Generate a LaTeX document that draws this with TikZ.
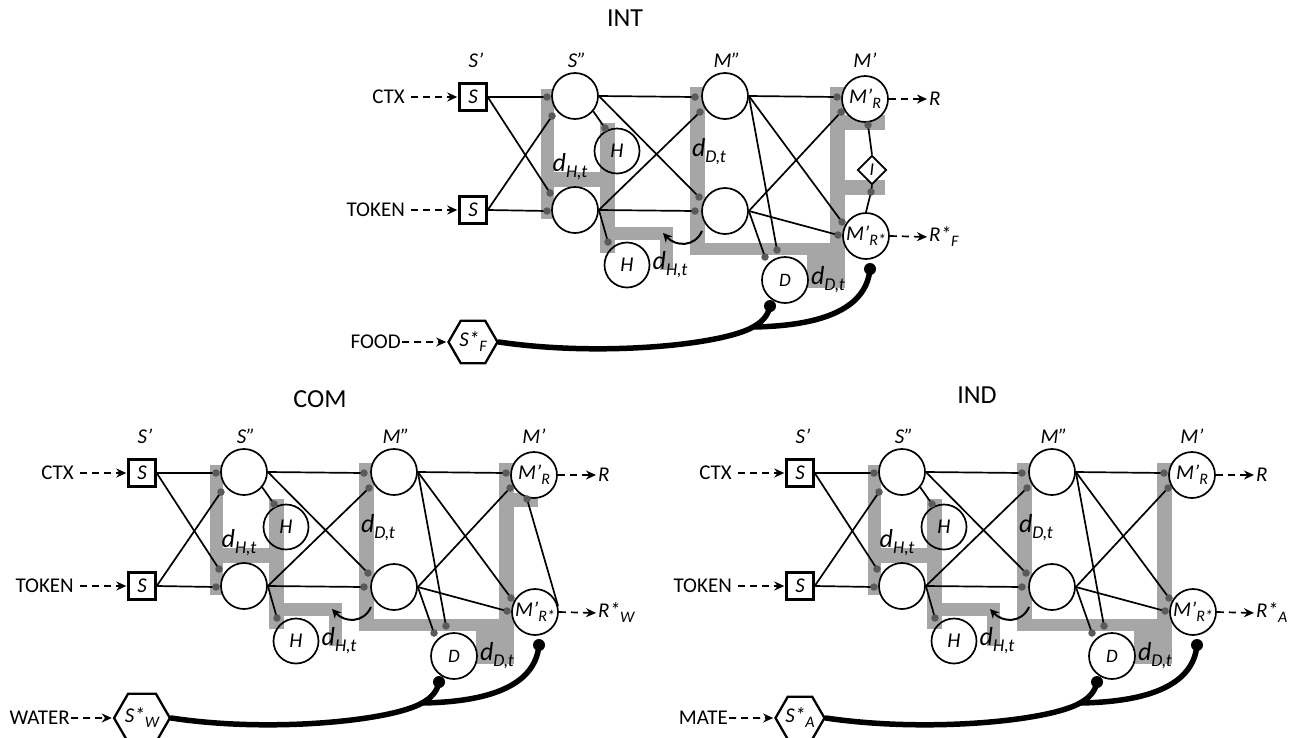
\documentclass[tikz,border=0pt]{standalone}
\usepackage{fontspec}
\setmainfont{Carlito}
\usetikzlibrary{arrows.meta,shapes.geometric}
\definecolor{bandgray}{RGB}{166,166,166}
\definecolor{dotgray}{RGB}{90,90,90}
\newcommand\lblfont{\fontsize{21}{24}\selectfont}
\newcommand\sbs[1]{\raisebox{-5pt}{\fontsize{16}{16}\selectfont #1}}
\newcommand\dlab[1]{{\fontsize{26}{26}\selectfont d}\raisebox{-6pt}{\fontsize{18}{18}\selectfont #1}}
\tikzset{
  band/.style={fill=bandgray},
  neuron/.style={circle, draw, line width=1.7pt, fill=white, minimum size=46pt, inner sep=0pt, font=\lblfont\itshape},
  hneuron/.style={circle, draw, line width=1.7pt, minimum size=45pt, inner sep=0pt, font=\lblfont\itshape},
  sbox/.style={draw, line width=2.4pt, minimum size=27pt, inner sep=0pt, fill=white, font=\lblfont\itshape},
  hexa/.style={regular polygon, regular polygon sides=6, draw, line width=2.3pt, minimum size=49pt, inner sep=0pt, fill=white, font=\lblfont\itshape},
  gate/.style={diamond, draw, line width=1.7pt, minimum size=29pt, inner sep=0pt, fill=white, font=\fontsize{18}{18}\selectfont\itshape},
  syn/.style={circle, fill=dotgray, inner sep=0pt, minimum size=7.5pt},
  bigdot/.style={circle, fill=black, inner sep=0pt, minimum size=12pt},
  wire/.style={line width=1.7pt},
  inarrow/.style={line width=1.7pt, dash pattern=on 7pt off 5pt, -{Stealth[length=10pt,width=9pt]}},
  heavy/.style={line width=5.5pt, line cap=round},
  txt/.style={font=\lblfont, inner sep=0pt},
  itxt/.style={font=\lblfont\itshape, inner sep=0pt},
  ttl/.style={font=\fontsize{26}{26}\selectfont, inner sep=0pt},
}
\newcommand\netcore[2]{%
  \fill[band] (541,89) rectangle (554,219);
  \fill[band] (554,172) rectangle (613,187);
  \fill[band] (600,123) rectangle (615,253);
  \fill[band] (615,227) rectangle (673,240);
  \fill[band] (660,240) rectangle (673,270);
  \fill[band] (690,87) rectangle (705,255);
  \fill[band] (705,243) rectangle (845,255);
  \fill[band] (830,87) rectangle (845,288);
  \fill[band] (807,255) rectangle (830,288);
  \node[itxt] (lsp) at (476,60) {S'};
  \node[itxt] (lspp) at (577,60) {S''};
  \node[itxt] (lmpp) at (727,60) {M''};
  \node[itxt] (lmp) at (865,60) {M'};
  \node[sbox] (sa) at (473,97) {S};
  \node[sbox] (sb) at (473,210) {S};
  \node[txt, anchor=east] (ctx) at (405,97) {CTX};
  \node[txt, anchor=east] (tok) at (405,210) {TOKEN};
  \node[neuron] (s2a) at (575,96) {};
  \node[neuron] (s2b) at (575,210) {};
  \node[hneuron] (ha) at (617,151) {H};
  \node[hneuron] (hb) at (627,265) {H};
  \node[neuron] (m2a) at (725,96) {};
  \node[neuron] (m2b) at (725,211) {};
  \node[neuron] (mr) at (865,99) {M'\sbs{R}};
  \node[neuron] (mrs) at (866,236) {M'\sbs{R*}};
  \node[neuron, font=\fontsize{19}{19}\selectfont\itshape] (dn) at (785,280) {D};
  \node[itxt] (dh1) at (570,167) {\dlab{H,t}};
  \node[itxt] (dh2) at (670,265) {\dlab{H,t}};
  \node[itxt] (dd1) at (709,152) {\dlab{D,t}};
  \node[itxt] (dd2) at (828,280) {\dlab{D,t}};
  \node[itxt, anchor=west] (rout) at (929,99) {R};
  \node[itxt, anchor=west] (rsout) at (929,237) {R*\sbs{#2}};
  \node[hexa] (hex) at (473,342) {S*\sbs{#2}};
  \node[txt, anchor=east] (stim) at (401,342) {#1};
  \coordinate (p1) at (547,97);
  \coordinate (p2) at (552,116);
  \coordinate (p3) at (550,193);
  \coordinate (p4) at (547,211);
  \coordinate (hq1) at (605,128);
  \coordinate (hq2) at (608,242);
  \coordinate (q1) at (695,97);
  \coordinate (q2) at (700,112);
  \coordinate (q3) at (699,197);
  \coordinate (q4) at (695,211);
  \coordinate (r1) at (837,97);
  \coordinate (r2) at (841,112);
  \coordinate (r3) at (842,222);
  \coordinate (r4) at (838,235);
  \coordinate (dq1) at (777,250);
  \coordinate (dq2) at (765,257);
  \draw[wire] (sa.east) -- (p1);
  \draw[wire] (sa.east) -- (p3);
  \draw[wire] (sb.east) -- (p2);
  \draw[wire] (sb.east) -- (p4);
  \draw[wire] (s2a.east) -- (q1);
  \draw[wire] (s2a.east) -- (q3);
  \draw[wire] (s2a.-40) -- (hq1);
  \draw[wire] (s2b.east) -- (q2);
  \draw[wire] (s2b.east) -- (q4);
  \draw[wire] (s2b.east) -- (hq2);
  \draw[wire] (m2a.east) -- (r1);
  \draw[wire] (m2a.east) -- (r3);
  \draw[wire] (m2a.east) -- (dq1);
  \draw[wire] (m2b.east) -- (r2);
  \draw[wire] (m2b.east) -- (r4);
  \draw[wire] (m2b.east) -- (dq2);
  \foreach \c in {p1,p2,p3,p4,hq1,hq2,q1,q2,q3,q4,r1,r2,r3,r4,dq1,dq2} \node[syn] at (\c) {};
  \draw[inarrow, shorten <=6pt, shorten >=1pt] (ctx.east) -- (sa.west);
  \draw[inarrow, shorten <=6pt, shorten >=1pt] (tok.east) -- (sb.west);
  \draw[inarrow, shorten <=1pt, shorten >=1pt] (stim.east) -- (hex.west);
  \draw[inarrow, shorten >=2pt] (mr.east) -- (rout.west);
  \draw[inarrow, shorten >=2pt] (mrs.east) -- (rsout.west);
  \coordinate (ca1) at (702,231);
  \coordinate (ca2) at (663,233);
  \draw[line width=2pt, -{Stealth[length=9pt,width=9pt]}] (ca1) .. controls (695,247) and (676,247) .. (ca2);
  \coordinate (br) at (753,327);
  \node[bigdot] (td) at (770,306) {};
  \node[bigdot] (tr) at (870,269) {};
  \draw[heavy] (hex.east) .. controls (600,357) and (722,345) .. (br) .. controls (762,322) and (768,316) .. (td.center);
  \draw[heavy] (br) .. controls (815,326) and (866,312) .. (tr.center);
}
\begin{document}
\begin{tikzpicture}[x=1pt,y=-1pt]
\useasboundingbox (0,0) rectangle (1301,737);
\node[ttl] (tint) at (625,18) {INT};
\node[ttl] (tcom) at (320,399) {COM};
\node[ttl] (tind) at (977,395) {IND};
\begin{scope}[name prefix=int-]
  \fill[band] (845,115) rectangle (885,130);
  \fill[band] (845,180) rectangle (885,195);
  \netcore{FOOD}{F}
  \node[gate] (idia) at (872,170) {I};
  \coordinate (i1) at (868,125);
  \coordinate (i2) at (871,192);
  \draw[wire] (i1) -- (idia.north);
  \draw[wire] (idia.south) -- (i2) -- (mrs.north);
  \node[syn] at (i1) {};
  \node[syn] at (i2) {};
\end{scope}
\begin{scope}[shift={(-331,376)}, name prefix=com-]
  \fill[band] (845,117) rectangle (869,131);
  \netcore{WATER}{W}
  \coordinate (c1) at (858,123);
  \draw[wire] (c1) -- (mrs.15);
  \node[syn] at (c1) {};
\end{scope}
\begin{scope}[shift={(327,376)}, name prefix=ind-]
  \netcore{MATE}{A}
\end{scope}
\end{tikzpicture}
\end{document}
